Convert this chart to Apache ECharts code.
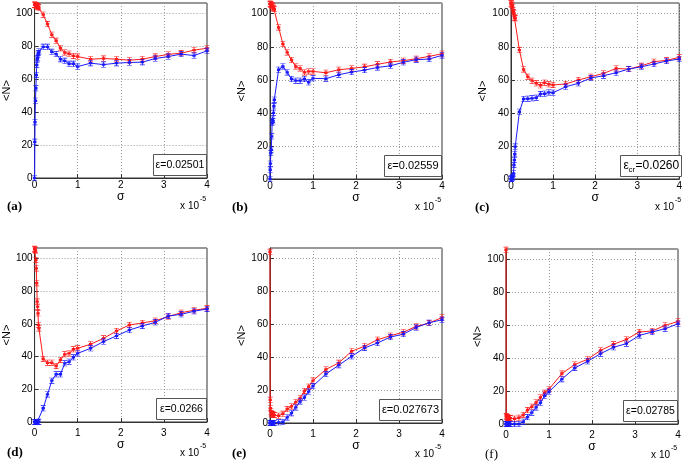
<!DOCTYPE html>
<html><head><meta charset="utf-8">
<script src="https://cdn.jsdelivr.net/npm/echarts@6/dist/echarts.min.js"></script>
<style>html,body{margin:0;padding:0;background:#fff}#c{width:685px;height:462px}</style>
</head><body><div id="c"></div>
<script>
// ---- data (sigma in units of 1e-5) ----
const SIGMA = [0, 0.005, 0.01, 0.02, 0.03, 0.04, 0.05, 0.06, 0.07, 0.08, 0.09, 0.1,
  0.2, 0.3, 0.4, 0.5, 0.6, 0.7, 0.8, 0.9, 1.0,
  1.3, 1.6, 1.9, 2.2, 2.5, 2.8, 3.1, 3.4, 3.7, 4.0];
const X_TICKS = [0, 1, 2, 3, 4];
const Y_TICKS = [0, 20, 40, 60, 80, 100];
const PANEL_LABELS = ['(a)', '(b)', '(c)', '(d)', '(e)', '(f)'];
const EPS_VALUES = ['=0.02501', '=0.02559', '=0.0260', '=0.0266', '=0.027673', '=0.02785'];
const EPS_SUB = ['', '', 'cr', '', '', ''];

const RED_A = [105.5, 105.5, 105.4, 105.3, 105.2, 105.0, 104.8, 104.6, 104.4, 104.2, 104.0, 103.6,
  99.4, 93.7, 87.2, 83.5, 79.0, 76.4, 75.6, 74.3, 73.9,
  72.3, 72.7, 72.3, 71.7, 72.3, 73.9, 75.2, 76.0, 77.8, 79.0];
const BLUE_A = [0, 22, 34, 47, 54.6, 62.7, 68.8, 72.3, 73, 75, 76, 77,
  79.8, 79.8, 76.8, 75.4, 72.3, 71.3, 69.5, 69.5, 67.8,
  69.9, 69.0, 69.9, 70.3, 70.5, 72.7, 73.9, 75.4, 74.5, 77.4];

const RED_B = [106, 106, 105.8, 105.6, 105.4, 105.2, 105, 104.5, 104, 103.5, 103, 102.8,
  91.7, 81.7, 76.6, 72.0, 68.1, 66.9, 64.5, 65.1, 65.1,
  64.3, 66.1, 66.9, 67.9, 69.4, 70.8, 71.6, 72.8, 74.2, 75.8];
const BLUE_B = [0, 5.6, 9.3, 15.7, 17.7, 25.8, 33.9, 35.9, 34.9, 40, 44, 48,
  66.1, 68.1, 64.5, 60.5, 59.5, 59.5, 60.5, 58.5, 60.9,
  60.7, 63.1, 64.7, 65.9, 67.5, 68.5, 70.6, 72.2, 72.6, 74.8];

const RED_C = [106.3, 106.2, 106, 105.5, 105, 104, 102, 101, 100.2, 97.8, 97.5, 97.2,
  78.0, 66.3, 61.9, 59.5, 57.9, 56.7, 58.3, 57.3, 56.9,
  57.5, 59.9, 61.9, 63.9, 66.9, 66.5, 68.5, 71.0, 71.8, 73.6];
const BLUE_C = [0, 0, 0.2, 0.4, 0.6, 1, 1.5, 3.4, 8.5, 11.5, 15, 19.6,
  40.7, 48.4, 48.6, 48.8, 49.2, 51.4, 51.6, 52.4, 52.2,
  55.8, 57.9, 61.1, 62.5, 64.3, 66.5, 67.9, 69.6, 71.4, 72.6];

const RED_D = [106, 105.8, 105.5, 105, 99.2, 94, 85, 73.7, 70.6, 66.5, 59.4, 57.3,
  38.6, 36.3, 36.3, 34.3, 38.0, 41.4, 42.0, 44.5, 45.1,
  47.6, 51.2, 55.7, 59.4, 60.6, 62.0, 64.5, 66.9, 68.4, 69.6];
const BLUE_D = [0, 0, 0, 0, 0, 0, 0, 0, 0, 0, 0, 0.2,
  8.4, 16.9, 25.3, 29.2, 29.2, 35.9, 36.9, 39.6, 42.0,
  45.1, 49.2, 52.7, 56.3, 58.8, 61.0, 64.9, 65.9, 67.8, 69.2];

const RED_E = [104.2, 14.1, 9, 7, 6, 5.6, 5.3, 5.1, 5, 5, 4.9, 4.8,
  4.4, 5.6, 8.5, 10.1, 12.7, 15.1, 19.5, 22.1, 25.8,
  32.6, 36.6, 43.7, 46.7, 50.7, 53.1, 55.3, 58.8, 60.8, 64.2];
const BLUE_E = [0, 0, 0, 0, 0, 0, 0, 0, 0, 0, 0, 0,
  0.4, 0.6, 3.4, 6.0, 9.5, 13.1, 15.5, 19.1, 22.5,
  29.8, 35.2, 40.6, 45.7, 48.7, 52.3, 54.1, 58.1, 61.0, 62.8];

const RED_F = [106, 4.8, 4.5, 4.2, 4, 3.9, 3.8, 3.7, 3.7, 3.6, 3.6, 3.6,
  3.2, 3.8, 5.5, 8.5, 10.5, 13.1, 16.2, 19.0, 21.2,
  30.7, 36.2, 39.4, 44.8, 48.5, 51.5, 56.0, 56.6, 60.0, 62.4];
const BLUE_F = [0, 0, 0, 0, 0, 0, 0, 0, 0, 0, 0, 0,
  0, 0, 1.4, 4.2, 6.9, 10.1, 12.9, 17.2, 19.6,
  27.3, 34.1, 38.2, 42.8, 46.7, 48.9, 53.9, 56.0, 58.0, 61.0];

const RED_SERIES = [RED_A, RED_B, RED_C, RED_D, RED_E, RED_F];
const BLUE_SERIES = [BLUE_A, BLUE_B, BLUE_C, BLUE_D, BLUE_E, BLUE_F];

// ---- layout ----
const GRIDS = [
  {left: 33, top: 3, width: 174, height: 175},
  {left: 270, top: 3, width: 172, height: 176},
  {left: 511, top: 3, width: 171, height: 176},
  {left: 33, top: 248, width: 174, height: 174},
  {left: 270, top: 248, width: 172, height: 175},
  {left: 506, top: 249, width: 172, height: 175}
];
const TOP_ROW = {lab: 2, sig: 13, x10: 28, pl: 29};
const BOT_ROW = {lab: 6, sig: 17, x10: 31, pl: 31};
const ROW_OFF = [TOP_ROW, TOP_ROW, TOP_ROW, BOT_ROW, BOT_ROW, BOT_ROW];
const PL_X = [7, 232, 475, 7, 232, 485];
const BOX_W = [53, 57, 61, 50, 62, 54];
const BOX_FS = [10.5, 11, 12, 10.5, 11, 10.5];
const FONT = '"Liberation Sans", Arial, sans-serif';
const SERIF = '"Liberation Serif", "Times New Roman", serif';
const FRAME = '#333';

const markerPath = 'path://M0,0h6v1h-6z M2.5,0h1v10h-1z M0,9h6v1h-6z M1,3h4v4h-4z';

const grid = [], xAxis = [], yAxis = [], series = [], graphic = [];
GRIDS.forEach((g, i) => {
  grid.push(Object.assign({show: true, borderColor: FRAME, borderWidth: 1, containLabel: false}, g));
  xAxis.push({
    type: 'value', gridIndex: i, min: X_TICKS[0], max: X_TICKS[X_TICKS.length - 1], interval: 1,
    name: 'σ', nameLocation: 'middle', nameGap: ROW_OFF[i].sig,
    nameTextStyle: {fontFamily: FONT, fontSize: 12, color: '#000'},
    axisLine: {show: true, lineStyle: {color: FRAME}},
    axisTick: {inside: true, length: 4, lineStyle: {color: FRAME}},
    axisLabel: {fontFamily: FONT, fontSize: 10, color: '#000', margin: ROW_OFF[i].lab,
      formatter: v => X_TICKS.includes(v) ? String(v) : ''},
    splitLine: {show: true, lineStyle: {type: [1, 2], color: '#9a9a9a'}}
  });
  yAxis.push({
    type: 'value', gridIndex: i, min: 0, max: 106.5, interval: 20,
    name: '<N>', nameLocation: 'middle', nameGap: 21, nameRotate: 90,
    nameTextStyle: {fontFamily: FONT, fontSize: 11, color: '#000'},
    axisLine: {show: true, lineStyle: {color: FRAME}},
    axisTick: {inside: true, length: 4, lineStyle: {color: FRAME}},
    axisLabel: {fontFamily: FONT, fontSize: 10, color: '#000', margin: 2, showMaxLabel: false,
      formatter: v => Y_TICKS.includes(v) ? String(v) : ''},
    splitLine: {show: true, lineStyle: {type: [1, 2], color: '#9a9a9a'}}
  });
  [[RED_SERIES[i], '#ff1a1a'], [BLUE_SERIES[i], '#1a1aff']].forEach(([arr, col]) => {
    series.push({
      type: 'line', xAxisIndex: i, yAxisIndex: i,
      data: SIGMA.map((s, k) => [s, arr[k]]),
      symbol: markerPath, symbolSize: [5, 6], showSymbol: true,
      lineStyle: {width: 1, color: col}, itemStyle: {color: col},
      animation: false, silent: true, clip: false
    });
  });
  const right = g.left + g.width, bottom = g.top + g.height;
  // legend box
  const bw = BOX_W[i], bh = 21;
  const bx = right - bw - 0.5, by = bottom - bh - 2.5;
  graphic.push({type: 'rect', shape: {x: bx, y: by, width: bw, height: bh},
    style: {fill: '#fff', stroke: '#555', lineWidth: 1}, z: 100});
  if (EPS_SUB[i]) {
    const fs = BOX_FS[i];
    graphic.push({type: 'text', x: bx + 3, y: by + bh / 2, z: 101,
      style: {text: 'ε', font: fs + 'px ' + FONT, fill: '#000', verticalAlign: 'middle'}});
    graphic.push({type: 'text', x: bx + 8, y: by + bh / 2 + 4, z: 101,
      style: {text: EPS_SUB[i], font: '8px ' + FONT, fill: '#000', verticalAlign: 'middle'}});
    graphic.push({type: 'text', x: bx + 15, y: by + bh / 2, z: 101,
      style: {text: EPS_VALUES[i], font: fs + 'px ' + FONT, fill: '#000', verticalAlign: 'middle'}});
  } else {
    graphic.push({type: 'text', x: bx + bw / 2, y: by + bh / 2, z: 101,
      style: {text: 'ε' + EPS_VALUES[i], font: BOX_FS[i] + 'px ' + FONT, fill: '#000',
        align: 'center', verticalAlign: 'middle'}});
  }
  // x 10^-5
  graphic.push({type: 'text', x: right - 8, y: bottom + ROW_OFF[i].x10, z: 101,
    style: {text: 'x 10', font: '10px ' + FONT, fill: '#000', align: 'right', verticalAlign: 'middle'}});
  graphic.push({type: 'text', x: right - 7, y: bottom + ROW_OFF[i].x10 - 7, z: 101,
    style: {text: '-5', font: '7px ' + FONT, fill: '#000', align: 'left', verticalAlign: 'middle'}});
  // panel label
  graphic.push({type: 'text', x: PL_X[i], y: bottom + ROW_OFF[i].pl, z: 101,
    style: {text: PANEL_LABELS[i], font: (i === 5 ? '' : 'bold ') + '13px ' + SERIF, fill: '#000',
      align: 'left', verticalAlign: 'middle'}});
});

const chart = echarts.init(document.getElementById('c'), null, {renderer: 'canvas'});
chart.setOption({animation: false, backgroundColor: '#fff', grid, xAxis, yAxis, series, graphic});
</script></body></html>
